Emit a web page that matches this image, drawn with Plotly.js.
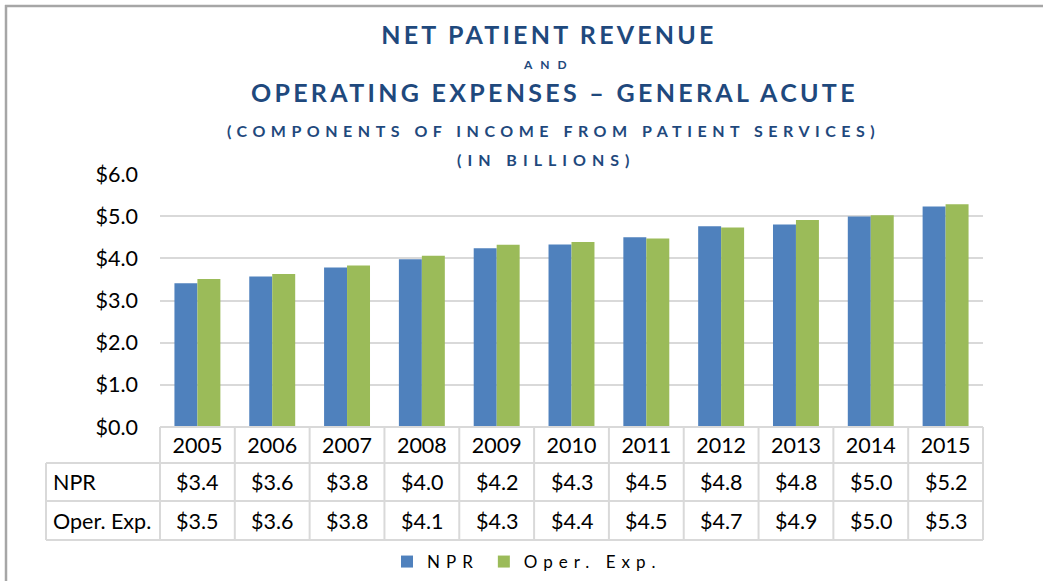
<!DOCTYPE html>
<html>
<head>
<meta charset="utf-8">
<script src="https://cdn.plot.ly/plotly-3.0.1.min.js"></script>
<style>
  html, body { margin: 0; padding: 0; background: #fff; }
  #chart { width: 1043px; height: 581px; }
  .gtitle { letter-spacing: 3.2px; }
  .annotation[data-index="0"] text { letter-spacing: 8px; }
  .annotation[data-index="1"] text { letter-spacing: 3.3px; }
  .annotation[data-index="2"] text { letter-spacing: 5.5px; }
  .annotation[data-index="3"] text { letter-spacing: 6px; }
  .legendtext { letter-spacing: 6px; }
</style>
</head>
<body>
<div id="chart"></div>
<script>
const years = ['2005','2006','2007','2008','2009','2010','2011','2012','2013','2014','2015'];
const npr   = [3.41, 3.57, 3.78, 3.98, 4.24, 4.33, 4.50, 4.76, 4.80, 4.99, 5.23];
const opex  = [3.51, 3.63, 3.83, 4.06, 4.32, 4.39, 4.47, 4.73, 4.91, 5.02, 5.28];
const seriesNames = ['NPR', 'Oper. Exp.'];
const yTicks = [0, 1, 2, 3, 4, 5, 6];

const titleColor = '#1F497D';
const gridColor = '#D9D9D9';
const font = 'Lato, "Open Sans", sans-serif';
const txtSize = 21.5;

const traces = [
  { type: 'bar', name: seriesNames[0], x: years, y: npr, marker: { color: '#4F81BD' } },
  { type: 'bar', name: seriesNames[1], x: years, y: opex, marker: { color: '#9BBB59' } }
];

const annotations = [
  { text: '<b>AND</b>', xref: 'paper', yref: 'paper', x: (549 - 160) / 823, y: 1, yshift: 174 - 64, showarrow: false, xanchor: 'center', yanchor: 'middle', font: { family: font, size: 12, color: titleColor } },
  { text: '<b>OPERATING EXPENSES – GENERAL ACUTE</b>', xref: 'paper', yref: 'paper', x: (554 - 160) / 823, y: 1, yshift: 174 - 92, showarrow: false, xanchor: 'center', yanchor: 'middle', font: { family: font, size: 25, color: titleColor } },
  { text: '<b>(COMPONENTS OF INCOME FROM PATIENT SERVICES)</b>', xref: 'paper', yref: 'paper', x: (553 - 160) / 823, y: 1, yshift: 174 - 130, showarrow: false, xanchor: 'center', yanchor: 'middle', font: { family: font, size: 16, color: titleColor } },
  { text: '<b>(IN BILLIONS)</b>', xref: 'paper', yref: 'paper', x: (546 - 160) / 823, y: 1, yshift: 174 - 159, showarrow: false, xanchor: 'center', yanchor: 'middle', font: { family: font, size: 16, color: titleColor } },
  { text: seriesNames[0], xref: 'paper', yref: 'paper', x: (51 - 160) / 823, y: 0, yshift: -(482 - 427), showarrow: false, xanchor: 'left', yanchor: 'middle', font: { family: font, size: txtSize, color: '#000' } },
  { text: seriesNames[1], xref: 'paper', yref: 'paper', x: (51 - 160) / 823, y: 0, yshift: -(521 - 427), showarrow: false, xanchor: 'left', yanchor: 'middle', font: { family: font, size: txtSize, color: '#000' } }
];
years.forEach((yr, i) => {
  annotations.push({ text: '$' + npr[i].toFixed(1), xref: 'x', yref: 'paper', x: i, y: 0, yshift: -(482 - 427), showarrow: false, xanchor: 'center', yanchor: 'middle', font: { family: font, size: txtSize, color: '#000' } });
  annotations.push({ text: '$' + opex[i].toFixed(1), xref: 'x', yref: 'paper', x: i, y: 0, yshift: -(521 - 427), showarrow: false, xanchor: 'center', yanchor: 'middle', font: { family: font, size: txtSize, color: '#000' } });
});

const line = { color: gridColor, width: 2 };
const shapes = [];
shapes.push({ type: 'line', xref: 'paper', yref: 'paper', ysizemode: 'pixel', yanchor: 0, x0: 0, x1: 1, y0: 0, y1: 0, line });
[463, 501, 540].forEach(py => {
  shapes.push({ type: 'line', xref: 'paper', yref: 'paper', ysizemode: 'pixel', yanchor: 0, x0: (46 - 160) / 823, x1: 1, y0: -(py - 427), y1: -(py - 427), line });
});
shapes.push({ type: 'line', xref: 'paper', yref: 'paper', ysizemode: 'pixel', yanchor: 0, x0: 0, x1: 0, y0: 0, y1: -(540 - 427), line });
shapes.push({ type: 'line', xref: 'paper', yref: 'paper', ysizemode: 'pixel', yanchor: 0, x0: 1, x1: 1, y0: 0, y1: -(540 - 427), line });
shapes.push({ type: 'line', xref: 'paper', yref: 'paper', ysizemode: 'pixel', yanchor: 0, x0: (46 - 160) / 823, x1: (46 - 160) / 823, y0: -(463 - 427), y1: -(540 - 427), line });
for (let i = 0; i < years.length - 1; i++) {
  shapes.push({ type: 'line', xref: 'x', yref: 'paper', ysizemode: 'pixel', yanchor: 0, x0: i + 0.5, x1: i + 0.5, y0: 0, y1: -(540 - 427), line });
}
const frame = { color: '#A6A6A6', width: 2.5 };
shapes.push({ type: 'line', xref: 'paper', yref: 'paper', xsizemode: 'pixel', xanchor: 0, ysizemode: 'pixel', yanchor: 0, x0: -155, x1: 900, y0: 427 - 6, y1: 427 - 6, line: frame });
shapes.push({ type: 'line', xref: 'paper', yref: 'paper', xsizemode: 'pixel', xanchor: 0, ysizemode: 'pixel', yanchor: 0, x0: -154, x1: -154, y0: 427 - 5, y1: -200, line: frame });

const layout = {
  width: 1043, height: 581,
  margin: { l: 160, r: 60, t: 174, b: 154 },
  paper_bgcolor: '#fff', plot_bgcolor: '#fff',
  font: { family: font, color: '#000' },
  title: { text: '<b>NET PATIENT REVENUE</b>', xref: 'container', x: 549 / 1043, xanchor: 'center', yref: 'container', y: 1 - 35 / 581, yanchor: 'middle', font: { family: font, size: 25, color: titleColor } },
  barmode: 'group', bargap: 0.386, bargroupgap: 0,
  xaxis: { type: 'category', range: [-0.5, 10.5], showgrid: false, showline: false, zeroline: false, ticks: '', ticklabelstandoff: 3, tickfont: { family: font, size: txtSize, color: '#000' }, fixedrange: true },
  yaxis: { range: [0, 6], tickvals: yTicks, tickformat: '$.1f', showgrid: true, gridcolor: gridColor, gridwidth: 2, zeroline: false, showline: false, ticks: '', ticklabelstandoff: 21, tickfont: { family: font, size: txtSize, color: '#000' }, fixedrange: true },
  showlegend: true,
  legend: { orientation: 'h', xref: 'container', yref: 'container', x: 387 / 1043, xanchor: 'left', y: 1 - 562 / 581, yanchor: 'middle', font: { family: font, size: 17, color: '#000' }, bgcolor: 'rgba(0,0,0,0)', traceorder: 'normal' },
  annotations, shapes
};

Plotly.newPlot('chart', traces, layout, { staticPlot: true, displayModeBar: false });
</script>
</body>
</html>
